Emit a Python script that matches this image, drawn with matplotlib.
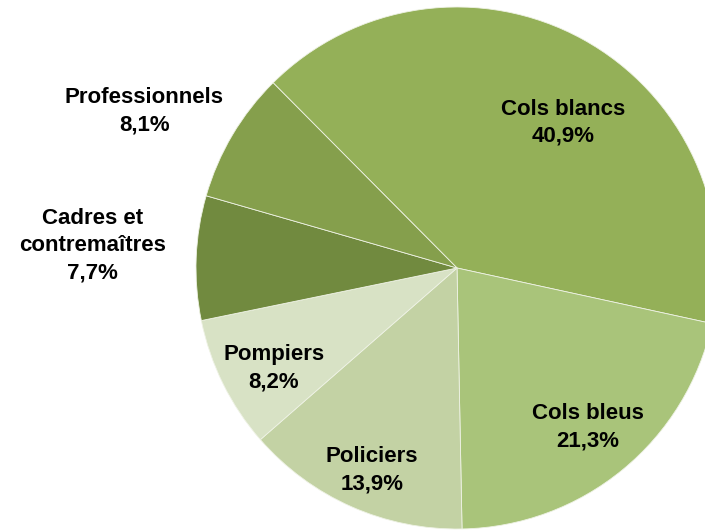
import numpy as np
import matplotlib
matplotlib.use('Agg')
import matplotlib.pyplot as plt

plt.rcParams['font.family'] = ['Liberation Sans', 'DejaVu Sans']

# employee categories and their share of the workforce
categories = ['Cols blancs', 'Cols bleus', 'Policiers', 'Pompiers',
              'Cadres et\ncontremaîtres', 'Professionnels']
shares = [40.9, 21.3, 13.9, 8.2, 7.7, 8.1]
share_labels = ['40,9%', '21,3%', '13,9%', '8,2%', '7,7%', '8,1%']
colors = ['#94b058', '#a9c47a', '#c3d2a4', '#d8e2c5', '#718a3f', '#859f4c']

# where each label sits: distance from centre and angle shift (deg)
label_r = [0.69, 0.79, 0.84, 0.80, 1.40, 1.34]
label_shift = [-7.5, 0, 1, 2.2, -1.3, 4.0]

fig = plt.figure(figsize=(7.05, 5.31), dpi=100)
ax = fig.add_axes([0, 0, 1, 1])

wedges, _ = ax.pie(shares, colors=colors, startangle=134.8, counterclock=False,
                   radius=1.0, center=(0, 0),
                   wedgeprops=dict(edgecolor='#eef2e4', linewidth=0.6))

for w, cat, lab, r, sh in zip(wedges, categories, share_labels, label_r, label_shift):
    mid = np.deg2rad((w.theta1 + w.theta2) / 2 + sh)
    ax.text(r * np.cos(mid), r * np.sin(mid), cat + '\n' + lab,
            ha='center', va='center', fontsize=16, fontweight='bold',
            linespacing=1.4, color='black')

R = 261.0
ax.set_xlim(-457 / R, (705 - 457) / R)
ax.set_ylim(-(531 - 268) / R, 268 / R)
ax.set_aspect('auto')
ax.axis('off')

fig.savefig('out.png', dpi=100)
